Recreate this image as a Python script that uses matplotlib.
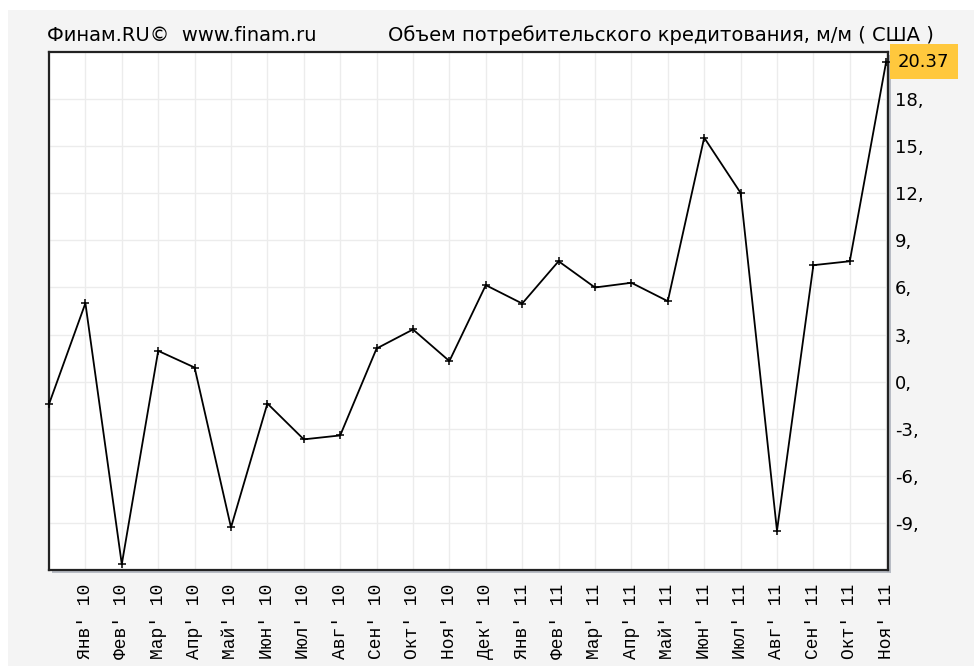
import matplotlib.pyplot as plt
from matplotlib.patches import Rectangle

# monthly values, Dec'09 .. Nov'11
values = [-1.42, 5.0, -11.6, 1.97, 0.91, -9.26, -1.38, -3.66, -3.41, 2.12,
          3.33, 1.32, 6.15, 4.98, 7.67, 6.0, 6.3, 5.13, 15.53, 12.02,
          -9.47, 7.42, 7.67, 20.37]
months_10 = ['Янв', 'Фев', 'Мар', 'Апр', 'Май', 'Июн', 'Июл', 'Авг', 'Сен', 'Окт', 'Ноя', 'Дек']
months_11 = ['Янв', 'Фев', 'Мар', 'Апр', 'Май', 'Июн', 'Июл', 'Авг', 'Сен', 'Окт', 'Ноя']
yticks = [-9, -6, -3, 0, 3, 6, 9, 12, 15, 18]

xlabels = [''] + [m + "' 10" for m in months_10] + [m + "' 11" for m in months_11]

W, H = 974, 666
fig = plt.figure(figsize=(W / 100, H / 100), dpi=100, facecolor='white')

# grey panel behind everything
fig.patches.append(Rectangle((8 / W, 0), 1, 1 - 10 / H, transform=fig.transFigure,
                             facecolor='#f4f4f4', edgecolor='none', zorder=-5))

left, right, top, bottom = 49, 888, 52, 570
ax = fig.add_axes([left / W, 1 - bottom / H, (right - left) / W, (bottom - top) / H])
ax.set_facecolor('white')

# shadow of the frame
fig.patches.append(Rectangle(((left + 3) / W, 1 - (bottom + 3) / H), (right - left) / W, (bottom - top) / H,
                             transform=fig.transFigure, facecolor='#b8bcc4', edgecolor='none', zorder=-1))

x = list(range(len(values)))
ax.plot(x, values, color='black', lw=1.3, marker='+', ms=6, mew=1.1, zorder=3, clip_on=False)

ax.set_xlim(0, 23.05)
ax.set_ylim(-11.97, 20.98)

ax.set_xticks(x)
ax.set_xticklabels(xlabels, rotation=90, family=['Liberation Mono', 'DejaVu Sans Mono'], fontsize=13)
ax.set_yticks(yticks)
ax.set_yticklabels([f'{v},' for v in yticks], fontsize=13)
ax.yaxis.tick_right()
ax.tick_params(axis='x', length=0, pad=10)
ax.tick_params(axis='y', length=0, pad=5)

ax.grid(True, color='#ececec', lw=1)
ax.set_axisbelow(True)
for s in ax.spines.values():
    s.set_color('#222222')
    s.set_linewidth(1.6)

# last value marker box
ax.text(1.012, values[-1], f'{values[-1]:.2f}', transform=ax.get_yaxis_transform(),
        va='center', ha='left', fontsize=13, clip_on=False,
        bbox=dict(boxstyle='square,pad=0.45', facecolor='#ffc83d', edgecolor='none'))

fig.text(47 / W, 1 - 41 / H, 'Финам.RU©  www.finam.ru', fontsize=14, va='baseline', ha='left')
fig.text(388 / W, 1 - 41 / H, 'Объем потребительского кредитования, м/м ( США )',
         fontsize=14, va='baseline', ha='left')

fig.savefig('out.png', dpi=100, facecolor=fig.get_facecolor())
